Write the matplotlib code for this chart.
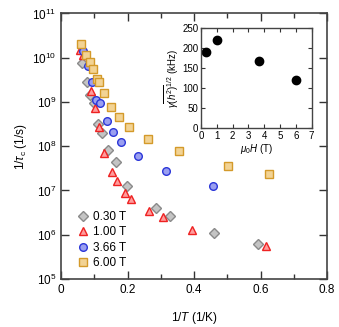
import numpy as np
import matplotlib
matplotlib.use("Agg")
import matplotlib.pyplot as plt
from matplotlib.ticker import MultipleLocator, FixedLocator, NullLocator

plt.rcParams['font.family'] = ['Liberation Sans', 'DejaVu Sans']
plt.rcParams['mathtext.fontset'] = 'custom'
plt.rcParams['mathtext.rm'] = 'Liberation Sans'
plt.rcParams['mathtext.it'] = 'Liberation Sans:italic'
plt.rcParams['mathtext.bf'] = 'Liberation Sans:bold'

# 0.30 T
x_030 = [0.062, 0.079, 0.088, 0.098, 0.110, 0.122, 0.142, 0.164, 0.197, 0.285, 0.329, 0.460, 0.593]
y_030 = [9.87, 9.44, 9.16, 8.98, 8.51, 8.29, 7.92, 7.64, 7.10, 6.60, 6.43, 6.03, 5.78]
# 1.00 T
x_100 = [0.058, 0.067, 0.090, 0.101, 0.114, 0.130, 0.152, 0.169, 0.192, 0.211, 0.263, 0.308, 0.395, 0.617]
y_100 = [10.18, 10.06, 9.25, 8.86, 8.43, 7.84, 7.41, 7.21, 6.95, 6.80, 6.54, 6.41, 6.11, 5.75]
# 3.66 T
x_366 = [0.066, 0.081, 0.094, 0.106, 0.117, 0.137, 0.157, 0.181, 0.230, 0.317, 0.456]
y_366 = [10.16, 9.82, 9.46, 9.05, 8.98, 8.58, 8.32, 8.10, 7.78, 7.45, 7.09]
# 6.00 T
x_600 = [0.059, 0.075, 0.087, 0.097, 0.109, 0.115, 0.129, 0.149, 0.175, 0.205, 0.260, 0.355, 0.501, 0.625]
y_600 = [10.30, 10.06, 9.90, 9.74, 9.52, 9.46, 9.21, 8.89, 8.67, 8.43, 8.17, 7.90, 7.56, 7.38]

# inset
field = [0.3, 1.0, 3.66, 6.0]
width_khz = [192, 220, 168, 120]

series = [
    (x_030, y_030, 'D', '#c4c4c4', '#8a8a8a', '0.30 T', 5.0),
    (x_100, y_100, '^', '#ff9c9c', '#ee2222', '1.00 T', 6.0),
    (x_366, y_366, 'o', '#9a9ff0', '#2b36d8', '3.66 T', 5.5),
    (x_600, y_600, 's', '#f2d394', '#d49a2a', '6.00 T', 5.3),
]

fig = plt.figure(figsize=(3.39, 3.27), dpi=100)
ax = fig.add_axes([0.180, 0.147, 0.785, 0.812])

for xs, ys, m, fc, ec, lab, ms in series:
    ax.plot(xs, 10 ** np.array(ys), ls='none', marker=m, ms=ms, mfc=fc, mec=ec,
            mew=1.0, label=lab)

ax.set_yscale('log')
ax.set_xlim(0, 0.8)
ax.set_ylim(1e5, 1e11)
ax.xaxis.set_minor_locator(MultipleLocator(0.1))
ax.set_xticks([0, 0.2, 0.4, 0.6, 0.8])
ax.set_xticklabels(['0', '0.2', '0.4', '0.6', '0.8'])
ax.yaxis.set_major_locator(FixedLocator([10.0 ** k for k in range(5, 12)]))
ax.yaxis.set_minor_locator(NullLocator())
ax.tick_params(which='both', direction='in', top=True, right=True, labelsize=8.5,
               color='#333333', width=1.0)
ax.tick_params(which='major', length=6)
ax.tick_params(which='minor', length=3.5)
for s in ax.spines.values():
    s.set_color('#444444')
    s.set_linewidth(1.2)
ax.set_xlabel(r'1/$T$ (1/K)', fontsize=8.5, labelpad=10)
ax.set_ylabel(r'1/$\tau_{\mathrm{c}}$ (1/s)', fontsize=8.5, labelpad=2)

ax.legend(loc='lower left', bbox_to_anchor=(0.02, 0.0), frameon=False, fontsize=8.5,
          handletextpad=0.3, labelspacing=0.3, borderpad=0.3, handlelength=1.2)

ins = fig.add_axes([0.593, 0.608, 0.326, 0.305])
ins.plot(field, width_khz, ls='none', marker='o', ms=6, color='black')
ins.set_xlim(0, 7)
ins.set_ylim(0, 250)
ins.xaxis.set_major_locator(MultipleLocator(1))
ins.yaxis.set_major_locator(MultipleLocator(50))
ins.tick_params(direction='in', top=True, right=True, labelsize=7, length=3,
                pad=2, color='#333333')
for s in ins.spines.values():
    s.set_color('#444444')
    s.set_linewidth(1.0)
ins.set_xlabel(r'$\mu_0H$ (T)', fontsize=7, labelpad=1)
ins.set_ylabel(r'$\gamma\overline{(h^2)}^{1/2}$ (kHz)', fontsize=7, labelpad=1)

fig.savefig('out.png', dpi=100)
